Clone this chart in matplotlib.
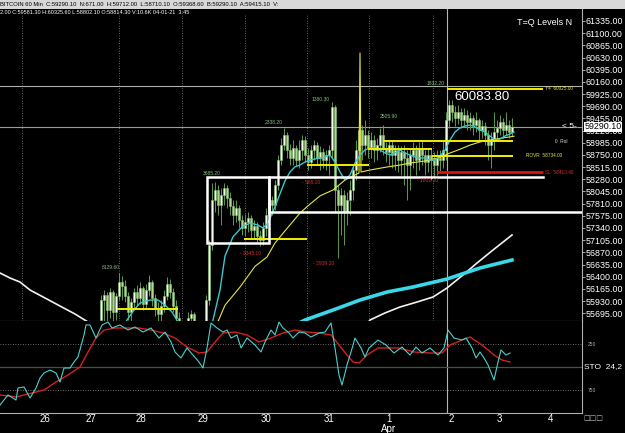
import numpy as np
import matplotlib.pyplot as plt
from matplotlib.patches import Rectangle

plt.rcParams['font.family'] = ['Liberation Sans', 'DejaVu Sans']

# ---- 60 Min candles (BTC), left to right ----
opens = [55564,55950,56046,55757,56104,55718,56027,56297,56220,56027,
         55718,55911,56104,55989,56182,55873,56143,56297,55989,55796,
         55680,55834,56027,56259,56104,55834,55603,55448,55371,55410,
         55603,55680,55448,55332,55255,55371,55950,57011,57880,58073,
         57783,57976,58112,57919,57764,57590,57726,57494,57340,57455,
         57533,57301,57378,57185,57108,57340,57590,57880,57783,58169,
         58652,58941,59134,58845,58691,58884,58652,58845,59038,58748,
         58613,58845,58941,58691,58806,58652,58748,58845,59675,58073,
         57783,57976,57648,57880,58073,58459,58845,59231,58941,59134,
         58884,59038,58845,58941,59134,58884,58806,58941,58748,58845,
         58652,58806,58691,58555,58748,58845,58652,58884,58748,58613,
         58748,58652,58555,58691,58652,58845,59424,59713,59578,59463,
         59578,59424,59520,59385,59463,59327,59424,59231,59308,59134,
         58941,59038,59192,59270,59385,59231,59327,59192]
closes = [55950,56046,55757,56104,55718,56027,56297,56220,56027,55718,
          55911,56104,55989,56182,55873,56143,56297,55989,55796,55680,
          55834,56027,56259,56104,55834,55603,55448,55371,55410,55603,
          55680,55448,55332,55255,55371,55950,57011,57880,58073,57783,
          57976,58112,57919,57764,57590,57726,57494,57340,57455,57533,
          57301,57378,57185,57108,57340,57590,57880,57783,58169,58652,
          58941,59134,58845,58691,58884,58652,58845,59038,58748,58613,
          58845,58941,58691,58806,58652,58748,58845,59675,58073,57783,
          57976,57648,57880,58073,58459,58845,59231,58941,59134,58884,
          59038,58845,58941,59134,58884,58806,58941,58748,58845,58652,
          58806,58691,58555,58748,58845,58652,58884,58748,58613,58748,
          58652,58555,58691,58652,58845,59424,59713,59578,59463,59578,
          59424,59520,59385,59463,59327,59424,59231,59308,59134,58941,
          59038,59192,59270,59385,59231,59327,59192,59290]
highs = [56046,56143,56104,56182,56143,56085,56471,56413,56336,56104,
         55989,56182,56239,56297,56220,56259,56432,56336,56066,55911,
         55950,56143,56394,56355,56182,55950,55718,55525,55487,55718,
         55757,55718,55525,55448,55467,56046,57108,58208,58227,58169,
         58112,58208,58169,58034,57880,57880,57783,57590,57610,57648,
         57590,57494,57455,57301,57455,57726,57976,57957,58266,58748,
         59077,59270,59192,58961,59038,58941,59038,59134,59115,58884,
         58941,59038,58999,58922,58884,58845,58941,59771,59713,58169,
         58112,58073,58034,58266,58555,59038,59424,59327,59424,59231,
         59192,59134,59077,59270,59327,58999,59038,59038,58941,58941,
         58922,58941,58845,58884,58999,58941,58999,59038,58845,58884,
         58884,58806,58845,58845,59038,59578,59810,59810,59694,59713,
         59656,59656,59617,59578,59520,59578,59463,59424,59385,59231,
         59192,59578,59424,59520,59463,59578,59424,59463]
lows = [55371,55467,55525,55603,55525,55564,55950,55950,55911,55564,
        55525,55757,55834,55873,55757,55796,56027,55834,55641,55525,
        55487,55718,55950,55989,55718,55448,55294,55217,55217,55294,
        55410,55294,55178,55101,55081,55178,55853,56915,57648,57590,
        57397,57783,57726,57590,57397,57455,57340,57204,57185,57262,
        57147,57147,57069,56992,57011,57185,57494,57590,57687,58073,
        58555,58845,58691,58555,58555,58536,58498,58652,58613,58459,
        58498,58652,58555,58459,58498,58459,58362,58691,57648,56761,
        57204,57011,57397,57590,57880,58266,58652,58652,58748,58691,
        58691,58613,58652,58806,58748,58613,58555,58498,58459,58420,
        58362,58169,57880,58073,58498,58362,58459,58555,58362,58420,
        58266,58305,58362,58420,58498,58652,59270,59385,59308,59347,
        59270,59308,59231,59231,59134,59192,59038,59077,58941,58652,
        58498,58845,59038,59134,59077,59134,59077,59115]
first_bar = 101
bar_step = 3

# moving averages (time position, price), nan = gap below the panel
fast_x = [122,127,134,140,150,158,165,172,178,190,
          210,213,220,225,233,242,250,258,263,268,275,280,285,290,295,300,
          305,310,315,320,325,330,335,340,345,350,355,360,365,370,375,380,
          385,390,395,400,405,410,415,420,425,430,435,440,445,450,455,460,
          465,470,475,480,485,490,495,500,505,510,514]
fast_ma = [55371,55564,55757,55892,55950,55950,55853,55718,55525,np.nan,
           55371,55564,56143,56800,57170,57359,57436,57397,57340,57436,57750,58000,58250,58420,58520,58555,
           58613,58652,58672,58691,58710,58748,58613,58420,58266,58362,58594,58748,58845,58884,58884,58845,
           58787,58748,58787,58845,58787,58748,58710,58691,58691,58652,58652,58729,58845,59038,59192,59270,
           59308,59327,59289,59231,59192,59115,59038,59057,59115,59154,59192]

slow_x = [215,225,240,255,267,275,287,300,310,320,333,345,355,359,360,361,
          370,387,400,410,425,440,450,460,470,480,490,500,507,514]
slow_ma = [55400,55850,56200,56600,56780,57050,57330,57630,57800,57960,58073,58266,58362,58401,60717,58420,
           58459,58517,58555,58594,58633,58700,58787,58860,58940,59000,59038,59070,59090,59110]

long_x = [0,10,20,30,45,60,75,88,100,200,360,370,385,400,417,433,447,463,477,493,512]
long_ma = [56471,56375,56297,56143,55989,55834,55680,55525,55300,np.nan,
           55300,55564,55700,55815,55911,56008,56182,56433,56664,56915,57205]

trend_x = [295,305,333,360,387,413,447,480,512]
trend_ma = [55467,55564,55757,55950,56104,56201,56355,56568,56722]

# levels (T=Q Levels)
lvl_price = [55776,57127,58555,58864,59019,58734,60025]
lvl_from = [117,244,307,368,383,432,447]
lvl_to = [178,307,369,432,513,513,543]
stop_price = 58413.40
zone_top = 58320
zone1_bottom = 57050
zone2_bottom = 57650
last_price = 59290.10
y4_high = 60083.80

# swing labels (time, price, text)
swing_up = [(102,56568,'8129.60'),(203,58401,'3685.20'),(265,59385,'2338.20'),
            (312,59810,'1380.30'),(380,59482,'2505.90'),(427,60119,'1832.20')]
swing_dn = [(240,56838,'- 3345.10'),(302,58227,'- 566.10'),(313,56664,'- 2939.10'),
            (417,58266,'- 1802.10')]

# stochastic
sto_x = [0,8,16,18,24,30,36,40,44,50,56,60,64,70,74,78,84,86,90,96,102,108,112,120,128,
         135,143,151,159,165,171,175,181,187,193,199,203,207,211,217,223,227,231,237,241,
         247,255,261,265,271,275,279,283,289,293,299,305,311,319,325,331,335,339,342,347,
         351,355,361,365,369,378,386,394,402,410,416,422,430,438,444,448,454,462,466,472,
         476,480,484,488,494,498,501,506,510]
sto_k = [913,804,859,728,717,837,728,620,565,533,565,663,511,511,446,391,152,43,43,185,43,11,76,43,98,
         65,120,76,185,120,228,337,402,293,370,446,511,293,22,76,120,98,185,152,293,
         185,261,337,228,98,152,11,76,130,185,120,130,174,130,120,22,293,587,696,478,
         337,185,293,391,293,207,261,348,283,370,283,348,293,370,293,98,185,207,185,293,
         402,337,402,478,641,446,315,370,348]
sig_x = [0,16,32,44,56,68,80,88,96,104,116,128,139,151,163,175,187,199,207,215,223,235,247,
         259,271,283,295,307,319,331,339,347,353,359,367,378,398,414,430,442,450,462,470,
         482,494,502,510]
sto_d = [804,826,783,750,663,587,500,337,185,98,76,76,76,98,130,185,283,348,337,228,130,120,152,
         228,185,130,98,120,130,152,261,370,446,457,370,293,293,337,348,348,261,207,174,
         261,370,424,446]

session_x = [22,119,182,245,307,369,433]
today_x = 447
day_pos = [45,91,141,203,266,329,389,451,499,550]
day_labels = ['26','27','28','29','30','31','1\nApr','2','3','4']

# ---- Figur ----
fig = plt.figure(figsize=(6.25, 4.33), dpi=100, facecolor='black')
H = 433.0
ax = fig.add_axes([0, 1 - 321/H, 582/625, 312/H], facecolor='black')
ax2 = fig.add_axes([0, 1 - 413/H, 582/625, 92/H], facecolor='black', sharex=ax)

# header
fig.add_artist(Rectangle((0, 1 - 9/H), 1, 9/H, transform=fig.transFigure,
                         facecolor='#d8d8d8', edgecolor='none'))
fig.text(0.0, 1 - 4.5/H, 'BITCOIN 60 Min  C:59290.10  N:671.00  H:59712.00  L:58710.10  '
         'O:59368.60  B:59290.10  A:59415.10  V:', fontsize=4.2, color='black', va='center')
fig.text(0.0, 1 - 13/H, '2.00 C:59581.30 H:60325.60 L:58802.10 O:58814.30 V:10.6K 04-01-21  3:45',
         fontsize=4.0, color='white', va='center')

# candles
o = np.array(opens, float); c = np.array(closes, float)
h = np.array(highs, float); l = np.array(lows, float)
x = first_bar + bar_step*np.arange(len(c))
up = c >= o
ax.vlines(x, l, h, color='#5e9a48', lw=0.7, zorder=3)
ax.bar(x[up], (c - o)[up], bottom=o[up], width=2.3, color='#f2fcec',
       edgecolor='#8cc474', lw=0.4, zorder=4)
ax.bar(x[~up], (o - c)[~up], bottom=c[~up], width=2.3, color='#acd890',
       edgecolor='#8cc474', lw=0.4, zorder=4)

# moving averages
ax.plot(long_x, long_ma, color='#f2f2f2', lw=1.2, zorder=5)
ax.plot(trend_x, trend_ma, color='#38d8e8', lw=2.6, zorder=5)
ax.plot(slow_x, slow_ma, color='#e6e640', lw=0.8, zorder=5)
ax.plot(fast_x, fast_ma, color='#38c8d0', lw=1.0, zorder=6)

# grid / reference lines
for sx in session_x:
    ax.axvline(sx, ymax=0.98, color='#8a8a8a', lw=0.6, ls=(0, (1, 2)), zorder=1)
ax.axvline(today_x, color='#b4b4b4', lw=0.8, zorder=1)
ax2.axvline(today_x, color='#b4b4b4', lw=0.8, zorder=1)
ax.axhline(y4_high, color='#b0b0b0', lw=0.8, zorder=2)
ax.axhline(last_price, color='#a0a070', lw=0.8, zorder=2)

# levels
ax.hlines(lvl_price, lvl_from, lvl_to, color='#f0f000', lw=1.4, zorder=7)
ax.hlines(stop_price, 437, 543, color='#e01010', lw=2.0, zorder=7)
ax.add_patch(Rectangle((207, zone1_bottom), 62, zone_top - zone1_bottom, fill=False,
                       edgecolor='white', lw=1.8, zorder=8))
ax.plot([543, 269, 269, 582], [zone_top, zone_top, zone2_bottom, zone2_bottom],
        color='white', lw=1.8, zorder=8, solid_joinstyle='miter')

for tx, py, s in swing_up:
    ax.text(tx, py, s, color='#7cc07c', fontsize=3.6, va='center', zorder=9)
for tx, py, s in swing_dn:
    ax.text(tx, py, s, color='#d03030', fontsize=3.6, va='center', zorder=9)

ax.text(545, 60025, 'Y4  60025.00', color='#e6e640', fontsize=3.4, va='center')
ax.text(526, 58734, 'ROVR  58734.00', color='#e6e640', fontsize=3.4, va='center')
ax.text(545, stop_price, 'SL  58413.40', color='#d03030', fontsize=3.4, va='center')
ax.text(555, 59005, '0  Rol', color='#e0e0e0', fontsize=3.4, va='center')
ax.text(454, 59868, '60083.80', color='white', fontsize=9.5, va='center')
ax.text(562, last_price, '< 5-', color='white', fontsize=6, va='center')
ax.text(517, 61296, 'T=Q Levels N', color='white', fontsize=6.5, va='center')

ax.set_xlim(0, 582)
ax.set_ylim(55545, 61566)
ax.yaxis.tick_right()
yt = np.arange(55695, 61336, 235)
ax.set_yticks(yt)
ax.set_yticklabels([f'{v:.2f}' for v in yt])
ax.tick_params(axis='y', colors='#c0c0c0', labelcolor='white', labelsize=6.4,
               length=2, width=0.6, pad=0.6)
ax.tick_params(axis='x', length=0, labelbottom=False)
for side in ['top', 'left']:
    ax.spines[side].set_visible(False)
ax.spines['right'].set_color('#b0b0b0')
ax.spines['bottom'].set_color('#b0b0b0')

ax.text(1.004, last_price, '59290.10', transform=ax.get_yaxis_transform(),
        color='black', fontsize=6.4, va='center', ha='left', zorder=10,
        bbox=dict(facecolor='white', edgecolor='none', pad=0.6))

# ---- STO panel ----
ax2.set_ylim(1000, 0)
ax2.axhline(250, color='#909090', lw=0.6, ls=(0, (1, 2)))
ax2.axhline(750, color='#909090', lw=0.6, ls=(0, (1, 2)))
ax2.axhline(500, color='#3d5a38', lw=0.9)
ax2.plot(sig_x, sto_d, color='#d42020', lw=1.0, zorder=3)
ax2.plot(sto_x, sto_k, color='#48d0d0', lw=0.8, zorder=4)
ax2.yaxis.tick_right()
ax2.set_yticks([250, 750])
ax2.set_yticklabels(['250', '750'])
ax2.tick_params(axis='y', colors='#b0b0b0', labelsize=3.5, length=0, pad=4)
ax2.text(1.003, 500, 'STO  24,2', transform=ax2.get_yaxis_transform(),
         color='white', fontsize=6.0, va='center', ha='left')
ax2.set_xticks(day_pos)
ax2.set_xticklabels(day_labels, color='white', fontsize=7, linespacing=0.95)
ax2.tick_params(axis='x', length=0, pad=1)
ax2.spines['top'].set_visible(False)
ax2.spines['left'].set_visible(False)
ax2.spines['right'].set_color('#b0b0b0')
ax2.spines['bottom'].set_color('#b0b0b0')
fig.text(583/625, 1 - 418/H, '\u25a1\u25a1\u25a1', color='#c0c0c0', fontsize=5,
         va='center', family='DejaVu Sans')

fig.savefig('out.png', dpi=100, facecolor='black')
